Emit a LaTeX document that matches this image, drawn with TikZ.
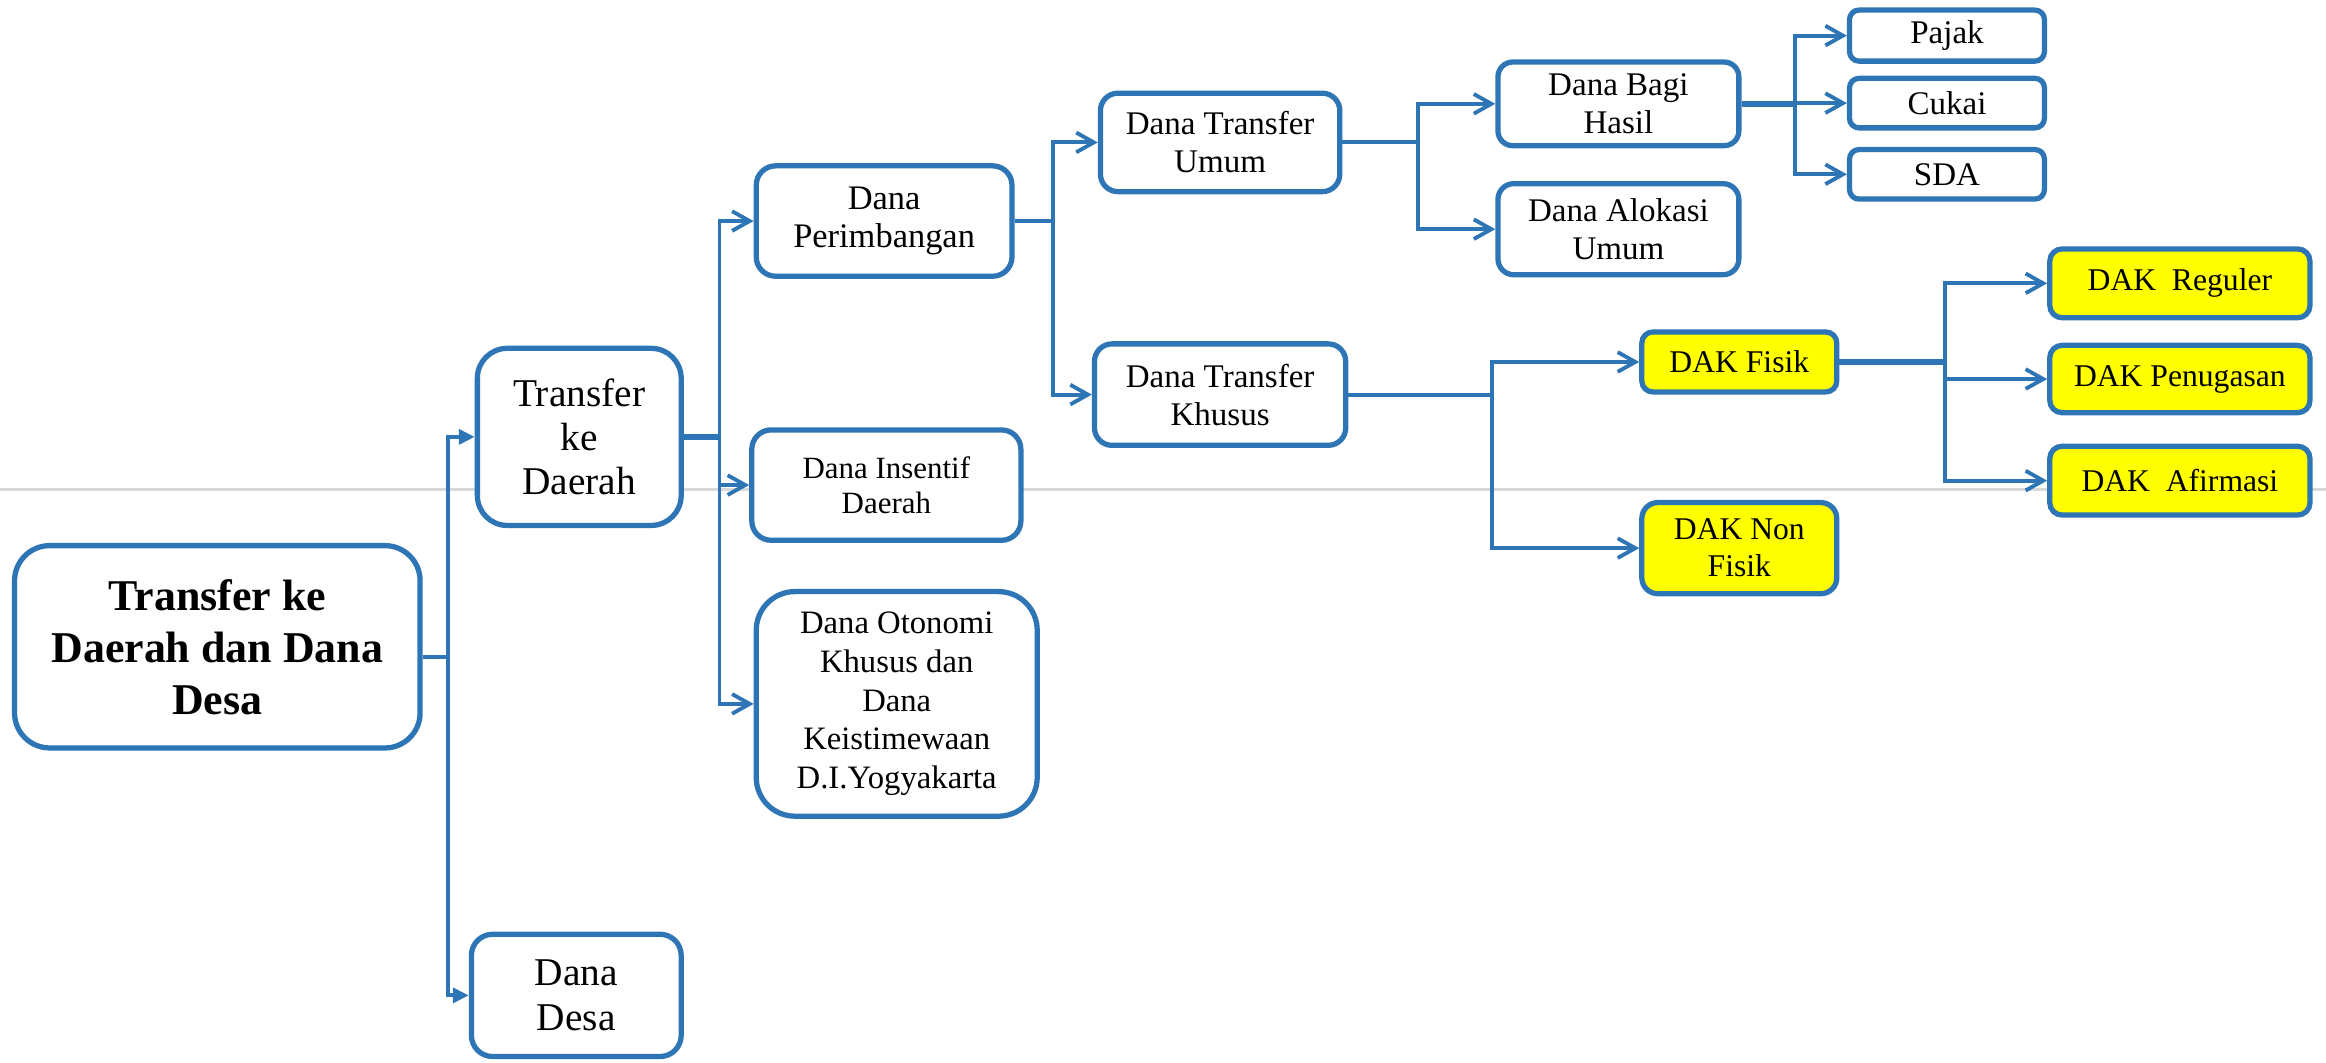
\documentclass[tikz,border=0pt]{standalone}
\usepackage{fontspec}
\setmainfont{Liberation Serif}
\usetikzlibrary{arrows.meta}
\definecolor{boxblue}{HTML}{2E75B6}
\definecolor{rulegray}{HTML}{D9D9D9}
\definecolor{dakyellow}{HTML}{FFFF00}

\begin{document}
\begin{tikzpicture}[x=0.4221pt,y=-0.4221pt,
  % place a box by its outer left/top/right/bottom edges
  span/.style args={#1/#2/#3/#4}{at={({(#1+#3)/2},{(#2+#4)/2})},
    minimum width={(#3-#1-3.6)*0.4221pt},
    minimum height={(#4-#2-3.6)*0.4221pt}},
  box/.style={draw=boxblue, line width=1.5pt, fill=white, align=center,
    inner sep=1pt, font=\fontsize{9.4}{10.8}\selectfont},
  dak/.style={box, fill=dakyellow, font=\fontsize{9}{10.5}\selectfont},
  conn/.style={draw=boxblue, line width=1.1pt,
    -{Straight Barb[length=5pt,width=5.6pt]}},
  rootconn/.style={draw=boxblue, line width=1.1pt,
    -{Triangle[length=4.5pt,width=4.2pt]}},
  stub/.style={draw=boxblue, line width=1.9pt}
]
\useasboundingbox (0,0) rectangle (1568,716);

% thin rule across the page
\draw[rulegray, line width=0.6pt] (0,330) -- (1568,330);

% boxes
\node[box, span=8/366/285/506, rounded corners=10pt,
      font=\fontsize{12.5}{14.8}\selectfont\bfseries] (main)
  {Transfer ke\\Daerah dan Dana\\Desa};
\node[box, span=320/233/461/356, rounded corners=8.5pt,
      font=\fontsize{11.2}{12.6}\selectfont] (tkd) {Transfer\\ke\\Daerah};
\node[box, span=316/628/461/714, rounded corners=6pt,
      font=\fontsize{11.2}{12.6}\selectfont] (desa) {Dana\\Desa};

\node[box, span=508/110/684/188, rounded corners=5.5pt,
      font=\fontsize{9.8}{10.7}\selectfont] (dp) {Dana\\Perimbangan};
\node[box, span=505/288/690/366, rounded corners=5.5pt,
      font=\fontsize{8.8}{10}\selectfont] (di) {Dana Insentif\\Daerah};
\node[box, span=508/397/701/552, rounded corners=11pt,
      font=\fontsize{9.3}{11}\selectfont] (otsus)
  {Dana Otonomi\\Khusus dan\\Dana\\Keistimewaan\\D.I.Yogyakarta};

\node[box, span=740/61/905/131, rounded corners=5pt] (dtu) {Dana Transfer\\Umum};
\node[box, span=736/230/909/302, rounded corners=5pt] (dtk) {Dana Transfer\\Khusus};

\node[box, span=1008/40/1174/100, rounded corners=4.2pt] (dbh) {Dana Bagi\\Hasil};
\node[box, span=1008/122/1174/187, rounded corners=4.5pt] (dau) {Dana Alokasi\\Umum};

\node[box, span=1245/5/1380/43, rounded corners=2.7pt] (pajak) {Pajak};
\node[box, span=1245/51/1380/88, rounded corners=2.7pt] (cukai) {Cukai};
\node[box, span=1245/99/1380/136, rounded corners=2.7pt] (sda) {SDA};

\node[dak, span=1105/222/1240/266, rounded corners=3.1pt] (fisik) {DAK Fisik};
\node[dak, span=1105/337/1240/402, rounded corners=4.5pt] (nonfisik) {DAK Non\\Fisik};

\node[dak, span=1380/166/1559/216, rounded corners=3.5pt] (reg) {DAK\ \ Reguler};
\node[dak, span=1380/231/1559/280, rounded corners=3.5pt] (pen) {DAK Penugasan};
\node[dak, span=1380/299/1559/349, rounded corners=3.5pt] (afi) {DAK\ \ Afirmasi};

% vertical bus positions
\coordinate (busA) at (302,0);
\coordinate (busB) at (485,0);
\coordinate (busC) at (710,0);
\coordinate (busD) at (956,0);
\coordinate (busE) at (1210,0);
\coordinate (busF) at (1006,0);
\coordinate (busG) at (1311,0);

% connectors
\coordinate (mainout) at ([yshift=-3pt]main.east);
\draw[rootconn] (mainout) -- (mainout -| busA) |- (tkd.west);
\draw[rootconn] (mainout) -- (mainout -| busA) |- (desa.west);

\draw[stub] (tkd.east) -- (tkd.east -| busB);
\draw[conn] (tkd.east) -- (tkd.east -| busB) |- (dp.west);
\draw[conn] (tkd.east) -- (tkd.east -| busB) |- (di.west);
\draw[conn] (tkd.east) -- (tkd.east -| busB) |- (otsus.west);

\draw[conn] (dp.east) -- (dp.east -| busC) |- (dtu.west);
\draw[conn] (dp.east) -- (dp.east -| busC) |- (dtk.west);

\draw[conn] (dtu.east) -- (dtu.east -| busD) |- (dbh.west);
\draw[conn] (dtu.east) -- (dtu.east -| busD) |- (dau.west);

\draw[stub] (dbh.east) -- (dbh.east -| busE);
\draw[conn] (dbh.east) -- (dbh.east -| busE) |- (pajak.west);
\draw[conn] (dbh.east) -- (dbh.east -| busE) |- (cukai.west);
\draw[conn] (dbh.east) -- (dbh.east -| busE) |- (sda.west);

\draw[conn] (dtk.east) -- (dtk.east -| busF) |- (fisik.west);
\draw[conn] (dtk.east) -- (dtk.east -| busF) |- (nonfisik.west);

\draw[stub] (fisik.east) -- (fisik.east -| busG);
\draw[conn] (fisik.east) -- (fisik.east -| busG) |- (reg.west);
\draw[conn] (fisik.east) -- (fisik.east -| busG) |- (pen.west);
\draw[conn] (fisik.east) -- (fisik.east -| busG) |- (afi.west);
\end{tikzpicture}
\end{document}
